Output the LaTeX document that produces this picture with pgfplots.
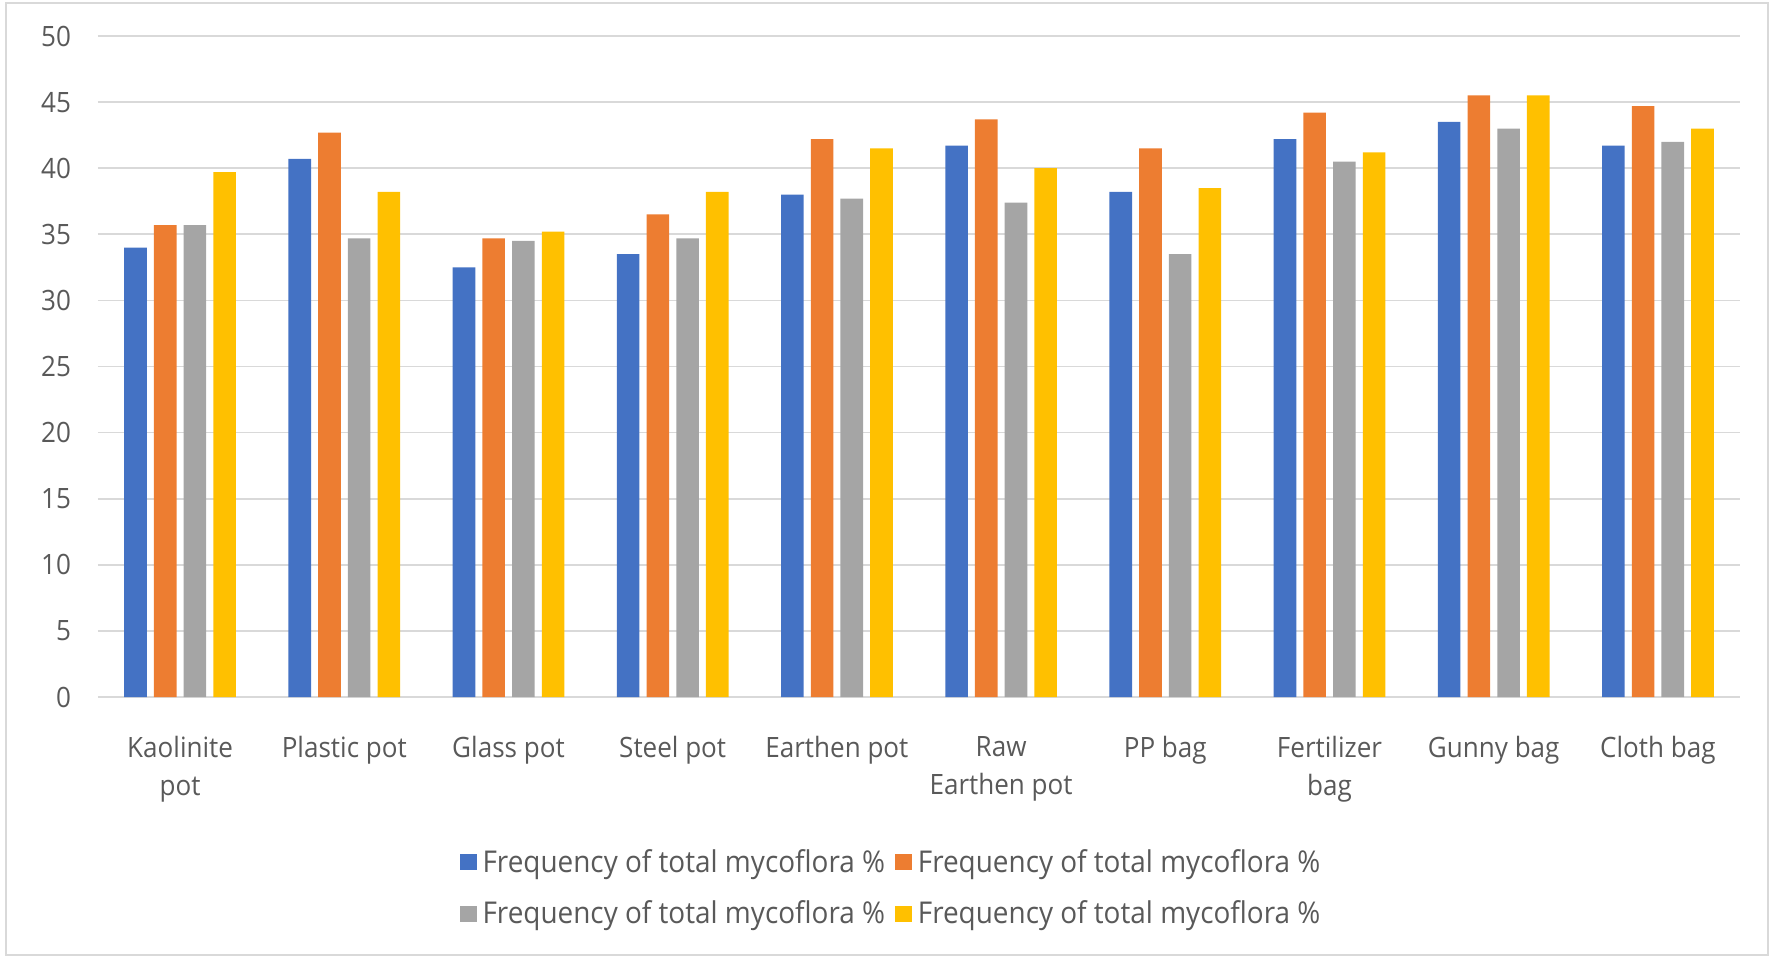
\documentclass[border=0pt]{standalone}
\usepackage{pgfplots}
\pgfplotsset{compat=1.18}
\usepackage{fontspec}
\setmainfont{Open Sans}[FakeStretch=0.93]
\definecolor{cBlue}{HTML}{4472C4}
\definecolor{cOrange}{HTML}{ED7D31}
\definecolor{cGray}{HTML}{A5A5A5}
\definecolor{cYellow}{HTML}{FFC000}
\definecolor{cText}{HTML}{595959}
\definecolor{cGrid}{HTML}{D9D9D9}
\begin{document}
\begin{tikzpicture}[font=\fontsize{14}{17}\selectfont]
\path[use as bounding box] (-49pt,-130.5pt) rectangle (836.5pt,348.5pt);
\draw[cGrid, line width=0.8pt] (-46pt,-129pt) rectangle (835pt,347pt);
\begin{axis}[
  at={(0,0)}, anchor=south west,
  scale only axis, width=821pt, height=330.5pt,
  xmin=-0.5, xmax=9.5, ymin=0, ymax=50,
  ytick={0,5,...,50},
  xtick={0,...,9},
  xticklabels={Kaolinite\\pot, Plastic pot, Glass pot, Steel pot, Earthen pot, Raw\\Earthen pot, PP bag, Fertilizer\\bag, Gunny bag, Cloth bag},
  xticklabel style={align=center, text=cText, anchor=north, yshift=-16pt, font=\fontsize{14}{19.2}\selectfont},
  yticklabel style={text=cText, xshift=-10pt},
  /pgf/number format/assume math mode=true,
  major tick length=0pt,
  axis line style={draw=none},
  axis x line*=bottom,
  ymajorgrids, grid style={cGrid, line width=0.8pt},
  ybar=3.55pt, bar width=11.3pt,
  legend columns=2,
  legend style={at={(0.4836,-0.289)}, anchor=center, draw=none, text=cText,
    /tikz/every even column/.append style={column sep=3pt},
    /tikz/every odd column/.append style={column sep=1pt},
    row sep=9pt, font=\fontsize{15}{18}\selectfont},
  legend image code/.code={\fill[#1] (0pt,-4.2pt) rectangle (8.4pt,4.2pt);},
]
\draw[cGrid, line width=0.8pt] (axis cs:-0.5,0) -- (axis cs:9.5,0);
\addplot[fill=cBlue, draw=none] coordinates {(0,34.0) (1,40.7) (2,32.5) (3,33.5) (4,38.0) (5,41.7) (6,38.2) (7,42.2) (8,43.5) (9,41.7)};
\addplot[fill=cOrange, draw=none] coordinates {(0,35.7) (1,42.7) (2,34.7) (3,36.5) (4,42.2) (5,43.7) (6,41.5) (7,44.2) (8,45.5) (9,44.7)};
\addplot[fill=cGray, draw=none] coordinates {(0,35.7) (1,34.7) (2,34.5) (3,34.7) (4,37.7) (5,37.4) (6,33.5) (7,40.5) (8,43.0) (9,42.0)};
\addplot[fill=cYellow, draw=none] coordinates {(0,39.7) (1,38.2) (2,35.2) (3,38.2) (4,41.5) (5,40.0) (6,38.5) (7,41.2) (8,45.5) (9,43.0)};
\legend{Frequency of total mycoflora \%, Frequency of total mycoflora \%, Frequency of total mycoflora \%, Frequency of total mycoflora \%}
\end{axis}
\end{tikzpicture}
\end{document}
